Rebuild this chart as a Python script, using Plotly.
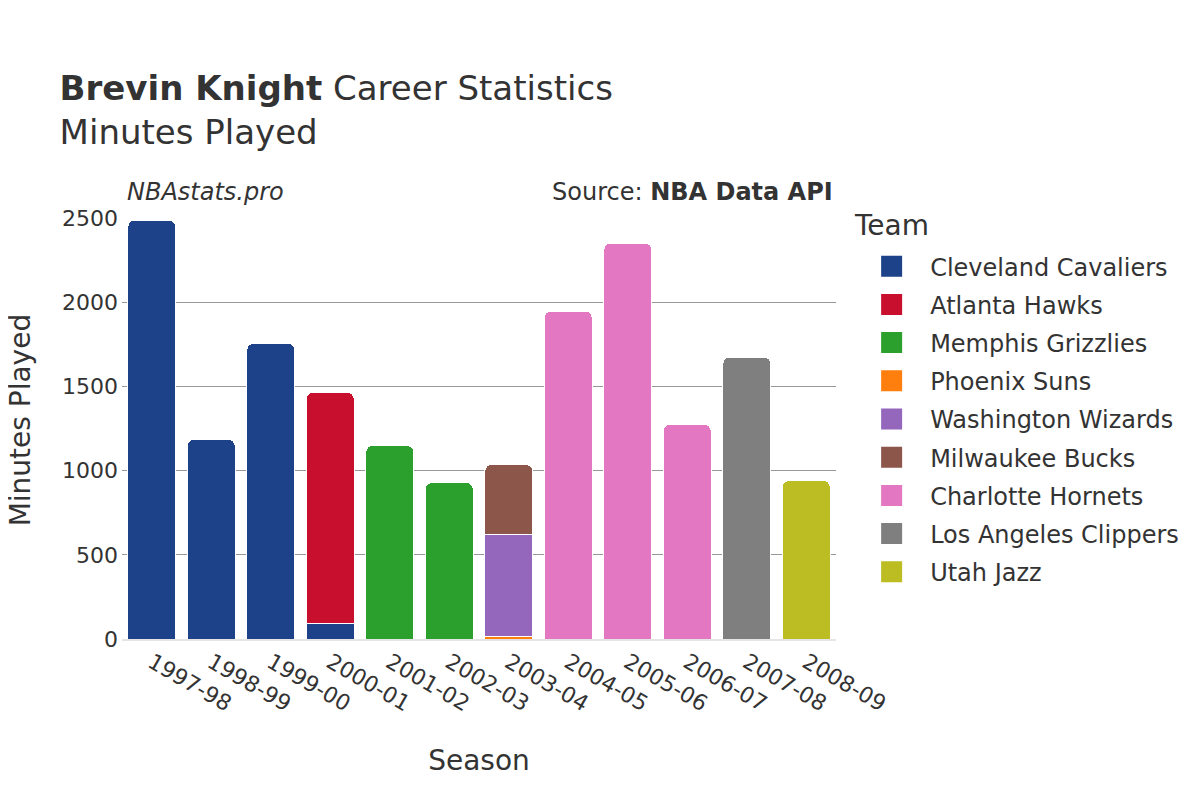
import plotly.graph_objects as go

seasons = ["1997-98", "1998-99", "1999-00", "2000-01", "2001-02", "2002-03",
           "2003-04", "2004-05", "2005-06", "2006-07", "2007-08", "2008-09"]

teams = ["Cleveland Cavaliers", "Atlanta Hawks", "Memphis Grizzlies", "Phoenix Suns",
         "Washington Wizards", "Milwaukee Bucks", "Charlotte Hornets",
         "Los Angeles Clippers", "Utah Jazz"]

colors = ["#1d428a", "#c8102e", "#2ca02c", "#ff7f0e", "#9467bd", "#8c564b",
          "#e377c2", "#7f7f7f", "#bcbd22"]

cleveland_seasons = ["1997-98", "1998-99", "1999-00", "2000-01"]
cleveland_minutes = [2486, 1184, 1755, 93]

atlanta_seasons = ["2000-01"]
atlanta_minutes = [1370]

memphis_seasons = ["2001-02", "2002-03"]
memphis_minutes = [1148, 928]

phoenix_seasons = ["2003-04"]
phoenix_minutes = [12]

washington_seasons = ["2003-04"]
washington_minutes = [607]

milwaukee_seasons = ["2003-04"]
milwaukee_minutes = [416]

charlotte_seasons = ["2004-05", "2005-06", "2006-07"]
charlotte_minutes = [1946, 2350, 1273]

clippers_seasons = ["2007-08"]
clippers_minutes = [1674]

utah_seasons = ["2008-09"]
utah_minutes = [940]

series = [
    (cleveland_seasons, cleveland_minutes),
    (atlanta_seasons, atlanta_minutes),
    (memphis_seasons, memphis_minutes),
    (phoenix_seasons, phoenix_minutes),
    (washington_seasons, washington_minutes),
    (milwaukee_seasons, milwaukee_minutes),
    (charlotte_seasons, charlotte_minutes),
    (clippers_seasons, clippers_minutes),
    (utah_seasons, utah_minutes),
]

font_family = "DejaVu Sans, sans-serif"
text_color = "#333333"

fig = go.Figure()
for team, color, (x, y) in zip(teams, colors, series):
    fig.add_trace(go.Bar(
        x=x, y=y, name=team, legendgroup=team, showlegend=False,
        marker=dict(color=color, line=dict(color="white", width=1)),
    ))
# legend entries with larger swatches
for team, color in zip(teams, colors):
    fig.add_trace(go.Scatter(
        x=[None], y=[None], mode="markers", name=team, legendgroup=team,
        marker=dict(symbol="square", size=16, color=color,
                    line=dict(color=color, width=5)),
        hoverinfo="skip",
    ))

fig.update_layout(
    barmode="stack",
    bargap=0.2,
    barcornerradius=6,
    width=1200, height=800,
    paper_bgcolor="white", plot_bgcolor="white",
    font=dict(family=font_family, size=22, color=text_color),
    margin=dict(l=114, r=372, t=210, b=169, autoexpand=False),
    title=dict(
        text="<b>Brevin Knight</b> Career Statistics<br>Minutes Played",
        x=0.043, xanchor="left", y=0.8855, yanchor="top",
        font=dict(size=34, color=text_color),
    ),
    xaxis=dict(
        type="category",
        title=dict(text="Season", font=dict(size=28), standoff=35),
        categoryorder="array", categoryarray=seasons,
        tickangle=30, tickfont=dict(size=22),
        showline=True, linecolor="#e5e5e5", linewidth=2,
        ticks="", automargin=False,
    ),
    yaxis=dict(
        range=[0, 2500], tickvals=[0, 500, 1000, 1500, 2000, 2500],
        gridcolor="#999999", gridwidth=1, zeroline=False,
        ticks="", ticklabelstandoff=3,
        tickfont=dict(size=22), automargin=False,
    ),
    legend=dict(
        traceorder="grouped",
        x=1.024, xanchor="left", y=0.938, yanchor="top",
        font=dict(size=24),
        tracegroupgap=4,
        itemwidth=67,
    ),
    annotations=[
        dict(text="Minutes Played", x=-0.1425, y=0.52, xref="paper", yref="paper",
             xanchor="center", yanchor="middle", textangle=-90, showarrow=False,
             font=dict(size=28), borderpad=0),
        dict(text="Team", x=1.0226, y=0.981, xref="paper", yref="paper",
             xanchor="left", yanchor="middle", showarrow=False, font=dict(size=28)),
        dict(text="<i>NBAstats.pro</i>", x=0.004, y=1.023, xref="paper", yref="paper",
             xanchor="left", yanchor="bottom", showarrow=False, font=dict(size=24)),
        dict(text="Source: <b>NBA Data API</b>", x=0.998, y=1.023, xref="paper", yref="paper",
             xanchor="right", yanchor="bottom", showarrow=False, font=dict(size=24)),
    ],
)

fig.write_html("out.html")
